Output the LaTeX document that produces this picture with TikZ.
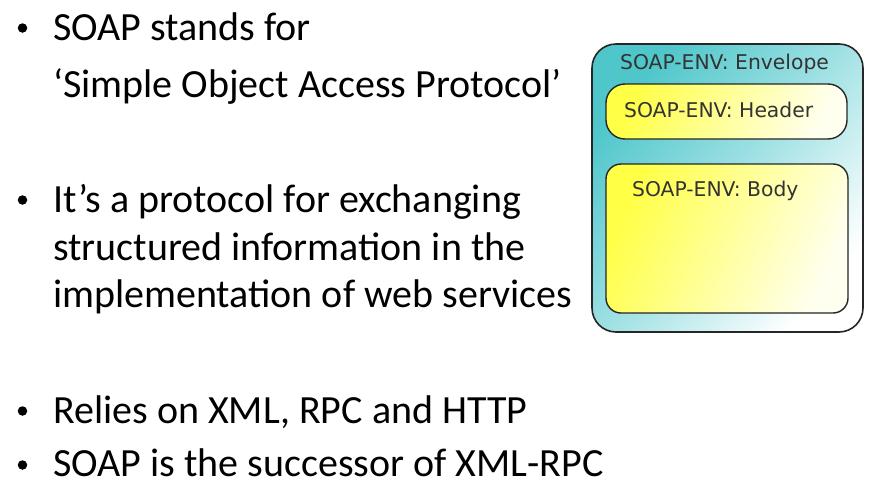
\documentclass[tikz,border=0pt]{standalone}
\usepackage{fontspec}
\setmainfont{Carlito}
\newfontfamily\diagfont{DejaVu Sans}
\begin{document}
\begin{tikzpicture}[x=1pt,y=-1pt,
  bullettext/.style={anchor=base west, inner sep=0pt, font=\fontsize{40}{48}\selectfont},
  bulletmark/.style={circle, fill=black, inner sep=0pt, minimum size=9.5pt},
  boxlabel/.style={anchor=base west, inner sep=0pt, font=\diagfont\fontsize{20.3}{24}\selectfont, text=black!80},
  envbox/.style={draw=black!85, line width=1.6pt, rounded corners=24pt, top color={rgb,255:red,78;green,198;blue,202}, bottom color=white, middle color={rgb,255:red,160;green,225;blue,228}, shading angle=50},
  partbox/.style={draw=black!85, line width=1.4pt, top color={rgb,255:red,255;green,255;blue,70}, bottom color={rgb,255:red,255;green,255;blue,240}, shading angle=65}
]
\useasboundingbox (0,0) rectangle (871,485);
\fill[white] (0,0) rectangle (871,485);

% bullets
\node[bulletmark] (b1) at (22.5,28) {};
\node[bullettext] (t1) at (53,40) {SOAP stands for};
\node[bullettext] (t2) at (53,97) {‘Simple Object Access Protocol’};
\node[bulletmark] (b2) at (22.5,200) {};
\node[bullettext] (t3) at (53,212) {It’s a protocol for exchanging};
\node[bullettext] (t4) at (53,260) {structured information in the};
\node[bullettext] (t5) at (53,307) {implementation of web services};
\node[bulletmark] (b3) at (22.5,411) {};
\node[bullettext] (t6) at (53,423) {Relies on XML, RPC and HTTP};
\node[bulletmark] (b4) at (22.5,465) {};
\node[bullettext] (t7) at (53,476.5) {SOAP is the successor of XML-RPC};

% SOAP envelope diagram
\path[envbox] (592,44) rectangle (863,332);
\path[partbox, rounded corners=19pt] (606,84) rectangle (847,139);
\path[partbox, rounded corners=15pt] (606,164) rectangle (848,313);
\node[boxlabel] (env) at (620,69) {SOAP-ENV: Envelope};
\node[boxlabel] (hdr) at (624,117) {SOAP-ENV: Header};
\node[boxlabel] (bdy) at (632,196) {SOAP-ENV: Body};
\end{tikzpicture}
\end{document}
